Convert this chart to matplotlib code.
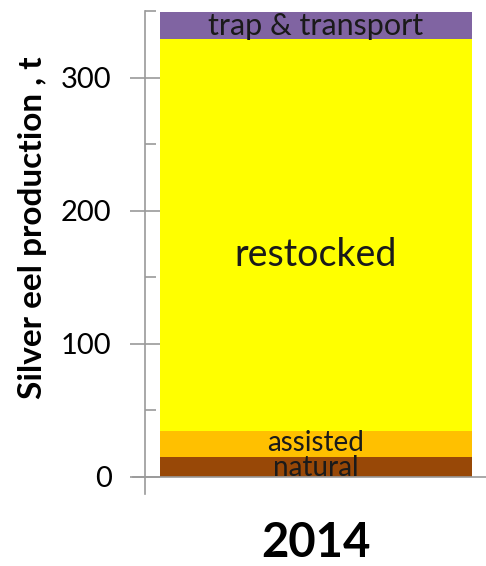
import numpy as np
import matplotlib.pyplot as plt

year = "2014"
sources = ["natural", "assisted", "restocked", "trap & transport"]
values = [15, 19, 295, 20]
colors = ["#984807", "#FFC000", "#FFFF00", "#8064A2"]
label_sizes = [20, 20, 27, 22]
label_pos = [0.45, 0.55, 0.45, 0.5]   # where the label sits inside its segment


def main():
    plt.rcParams['font.family'] = ['Lato', 'DejaVu Sans']
    fig = plt.figure(figsize=(4.86, 5.66), dpi=100)
    ax = fig.add_axes([145 / 486, 72 / 566, 341 / 486, 483 / 566])

    bottom = 0
    for name, v, c, fs, p in zip(sources, values, colors, label_sizes, label_pos):
        ax.bar(0, v, width=1.0, bottom=bottom, color=c, linewidth=0)
        ax.text(0, bottom + v * p, name, ha="center", va="center",
                fontsize=fs, color="#1a1a1a")
        bottom += v

    ax.set_xlim(-0.548, 0.545)
    ax.set_ylim(-13, 350)

    for s in ["top", "right", "bottom"]:
        ax.spines[s].set_visible(False)
    ax.spines["left"].set_color("#9a9a9a")
    ax.spines["left"].set_linewidth(1.2)
    ax.axhline(0, xmin=-0.036, xmax=1.0, color="#9a9a9a", lw=1.2, clip_on=False)

    ax.set_yticks([0, 100, 200, 300])
    ax.set_yticks([50, 150, 250, 350], minor=True)
    ax.tick_params(axis="y", which="major", direction="inout", length=22,
                   width=1.2, color="#9a9a9a", labelsize=21, pad=13)
    ax.tick_params(axis="y", which="minor", direction="in", length=8,
                   width=1.2, color="#9a9a9a")
    ax.set_xticks([])

    fig.text(33 / 486, 1 - 228 / 566, "Silver eel production , t",
             rotation=90, ha="center", va="center",
             fontsize=24, fontweight="bold")
    fig.text(316 / 486, 1 - 543 / 566, year, ha="center", va="center",
             fontsize=34, fontweight="bold")

    fig.savefig("out.png", dpi=100)


if __name__ == "__main__":
    main()
